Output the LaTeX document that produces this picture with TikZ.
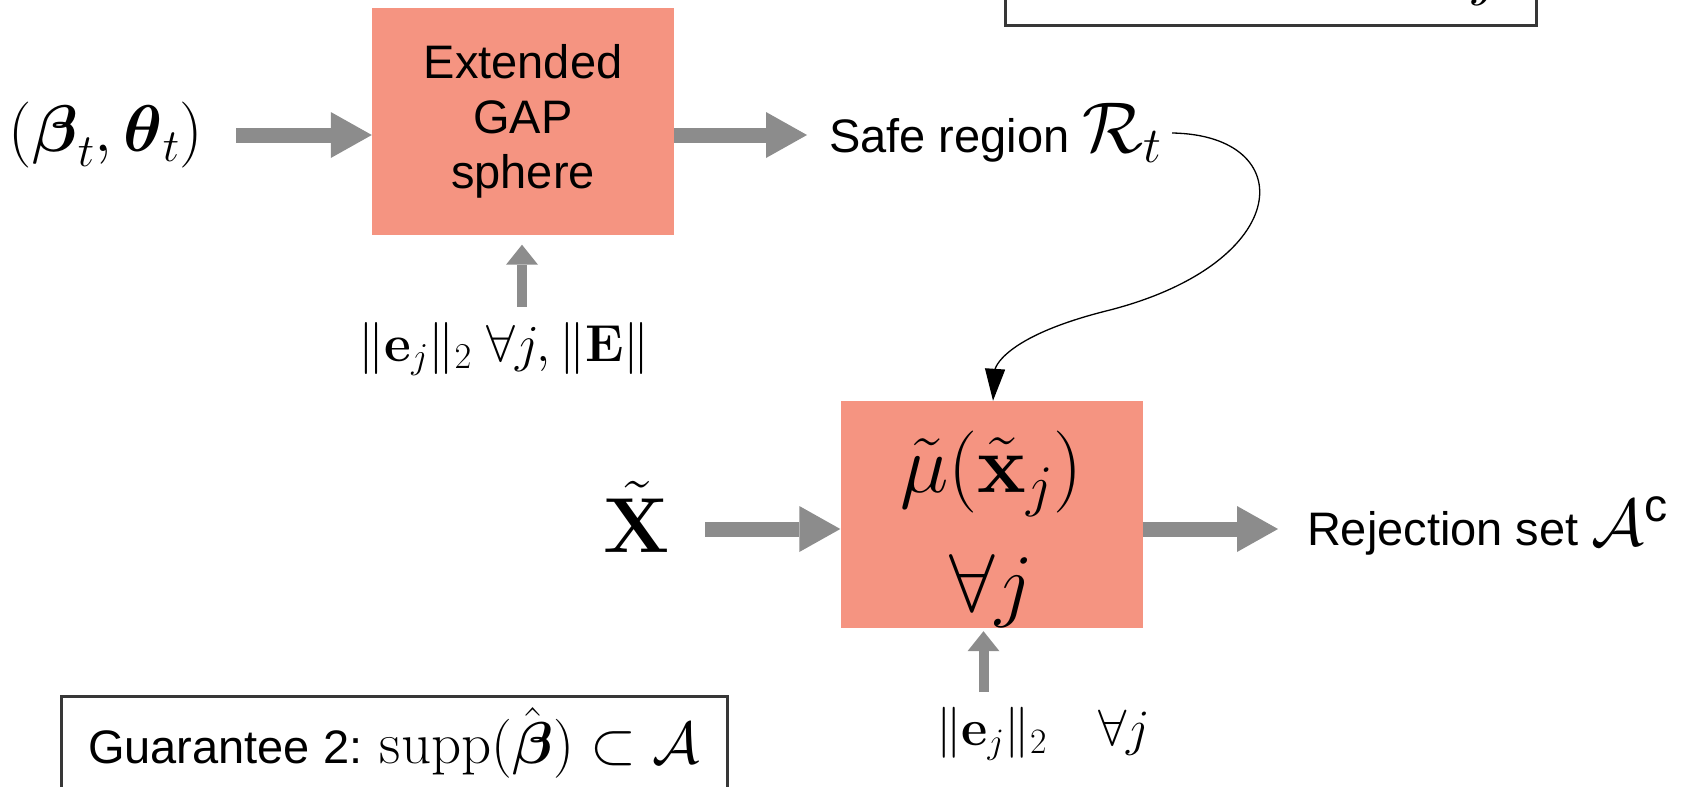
\RequirePackage{fix-cm}
\documentclass[tikz,border=0pt]{standalone}
\usepackage{amsmath,amssymb}
\usepackage[no-math]{fontspec}
\setmainfont{Liberation Sans}
\usetikzlibrary{arrows.meta}
\definecolor{salmon}{RGB}{245,148,129}
\definecolor{agrey}{RGB}{140,140,140}
\definecolor{bgrey}{RGB}{55,55,55}
\tikzset{
  block/.style={fill=salmon, draw=none, minimum width=302pt, minimum height=227pt, inner sep=0pt, align=center},
  fat/.style={draw=agrey, line width=15pt, -{Triangle[length=41pt,width=46pt,line width=0pt]}},
  slim/.style={draw=agrey, line width=10pt, -{Triangle[length=20pt,width=32pt,line width=0pt]}},
  curvy/.style={draw=black, line width=1.3pt, -{Triangle[length=32pt,width=20pt]}},
  plain/.style={inner sep=0pt, outer sep=0pt},
  gbox/.style={draw=bgrey, line width=3pt, inner sep=0pt},
}
\begin{document}
\begin{tikzpicture}[x=1pt,y=-1pt]
\useasboundingbox (0,0) rectangle (1682,787);
\clip (0,0) rectangle (1682,787);

% top block
\node[block, font=\fontsize{47}{55}\selectfont] (gap) at (523,121) {Extended\\GAP\\sphere};
\node[plain, font=\fontsize{66}{74}\selectfont] (in1) at (106,135) {$(\boldsymbol{\beta}_t,\boldsymbol{\theta}_t)$};
\coordinate (a1s) at (236,135);
\draw[fat] (a1s) -- (gap.west |- a1s);
\coordinate (a2e) at (807,135);
\draw[fat] (gap.east |- a2e) -- (a2e);
\node[plain, anchor=base west] (safe) at (829,152) {{\fontsize{47}{55}\selectfont Safe region }{\fontsize{72}{76}\selectfont$\mathcal{R}_t$}};

\node[plain, font=\fontsize{52}{60}\selectfont] (lab1) at (504,349) {$\|\mathbf{e}_j\|_2\ \forall j, \|\mathbf{E}\|$};
\draw[slim, shorten >=10pt] ([xshift=-1pt,yshift=-72pt]gap.south) -- ([xshift=-1pt]gap.south);

% bottom block
\node[block, font=\fontsize{82}{119}\selectfont, text height=210.5pt] (mu) at (991.5,514.5) {$\tilde{\mu}(\tilde{\mathbf{x}}_j)$\\$\forall j$};
\node[plain, font=\fontsize{78}{84}\selectfont, anchor=base] (X) at (637,552) {$\tilde{\mathbf{X}}$};
\coordinate (a3s) at (705,529);
\draw[fat] (a3s) -- (mu.west |- a3s);
\coordinate (a4e) at (1278,529);
\draw[fat] (mu.east |- a4e) -- (a4e);
\node[plain, anchor=base west] (rej) at (1307,545) {{\fontsize{47}{55}\selectfont Rejection set }{\fontsize{66}{70}\selectfont$\mathcal{A}^{\text{c}}$}};

\node[plain, font=\fontsize{51}{60}\selectfont] (lab2) at (1043,734) {$\|\mathbf{e}_j\|_2\quad\forall j$};
\draw[slim, shorten >=3pt] ([xshift=-8pt,yshift=-64pt]mu.south) -- ([xshift=-8pt]mu.south);

% curved connector
\coordinate (c0) at (1172,133);
\draw[curvy] (c0) .. controls (1300,135) and (1295,262) .. (1110,310) .. controls (1000,337) and (995,370) .. ([xshift=1.5pt]mu.north);

% guarantee boxes
\node[gbox, minimum width=666pt, minimum height=94pt] (g2) at (394,743) {{\fontsize{47}{52}\selectfont Guarantee 2: }{\fontsize{59}{62}\selectfont$\operatorname{supp}(\hat{\boldsymbol{\beta}})\subset\mathcal{A}$}};
\node[gbox, minimum width=531pt, minimum height=90pt] (g1) at (1270.5,-20) {};
\node[plain, font=\fontsize{62}{70}\selectfont, anchor=base] (g1j) at (1487,-6) {$j$};
\end{tikzpicture}
\end{document}
